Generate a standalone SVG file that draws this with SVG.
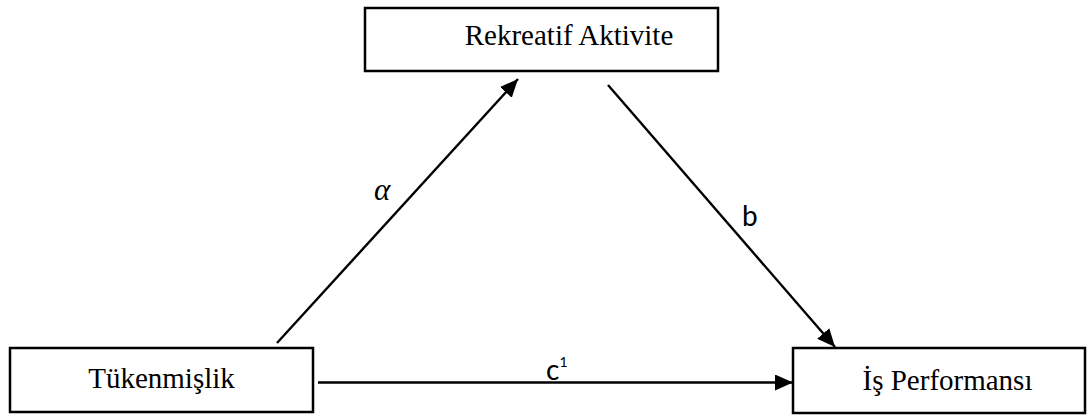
<svg xmlns="http://www.w3.org/2000/svg" width="1089" height="416" viewBox="0 0 1089 416">
<style>
.box{fill:#fff;stroke:#000;stroke-width:2.5}
.lbl{font-family:"Liberation Serif","Times New Roman",serif;font-size:29px;fill:#000;text-anchor:middle}
.edge{stroke:#000;stroke-width:2.4;fill:none}
.sym{font-family:Lato,"Open Sans",sans-serif;font-size:28px;fill:#000}
</style>
<defs>
<marker id="ah" markerUnits="userSpaceOnUse" markerWidth="20" markerHeight="18" refX="18" refY="8" orient="auto">
<path d="M0,0 L18,8 L0,16 z" fill="#000"/>
</marker>
</defs>
<rect width="1089" height="416" fill="#fff"/>
<g id="node-rekreatif">
<rect class="box" x="365" y="8" width="353" height="63"/>
<text class="lbl" x="569" y="45">Rekreatif Aktivite</text>
</g>
<g id="node-tukenmislik">
<rect class="box" x="10" y="348" width="303" height="64"/>
<text class="lbl" x="161.5" y="388">Tükenmişlik</text>
</g>
<g id="node-performans">
<rect class="box" x="793" y="348" width="292" height="65"/>
<text class="lbl" x="947.5" y="390">İş Performansı</text>
</g>
<g id="connectors">
<line class="edge" x1="277" y1="343" x2="518" y2="79" marker-end="url(#ah)"/>
<line class="edge" x1="608" y1="85" x2="835" y2="347" marker-end="url(#ah)"/>
<line class="edge" x1="318" y1="382.5" x2="793" y2="382.5" marker-end="url(#ah)"/>
<text x="374" y="200" style="font-family:'Liberation Serif',serif;font-style:italic;font-size:31px">α</text>
<text class="sym" x="742" y="226">b</text>
<text class="sym" x="546" y="380">c<tspan font-size="14" dy="-13">1</tspan></text>
</g>
</svg>
